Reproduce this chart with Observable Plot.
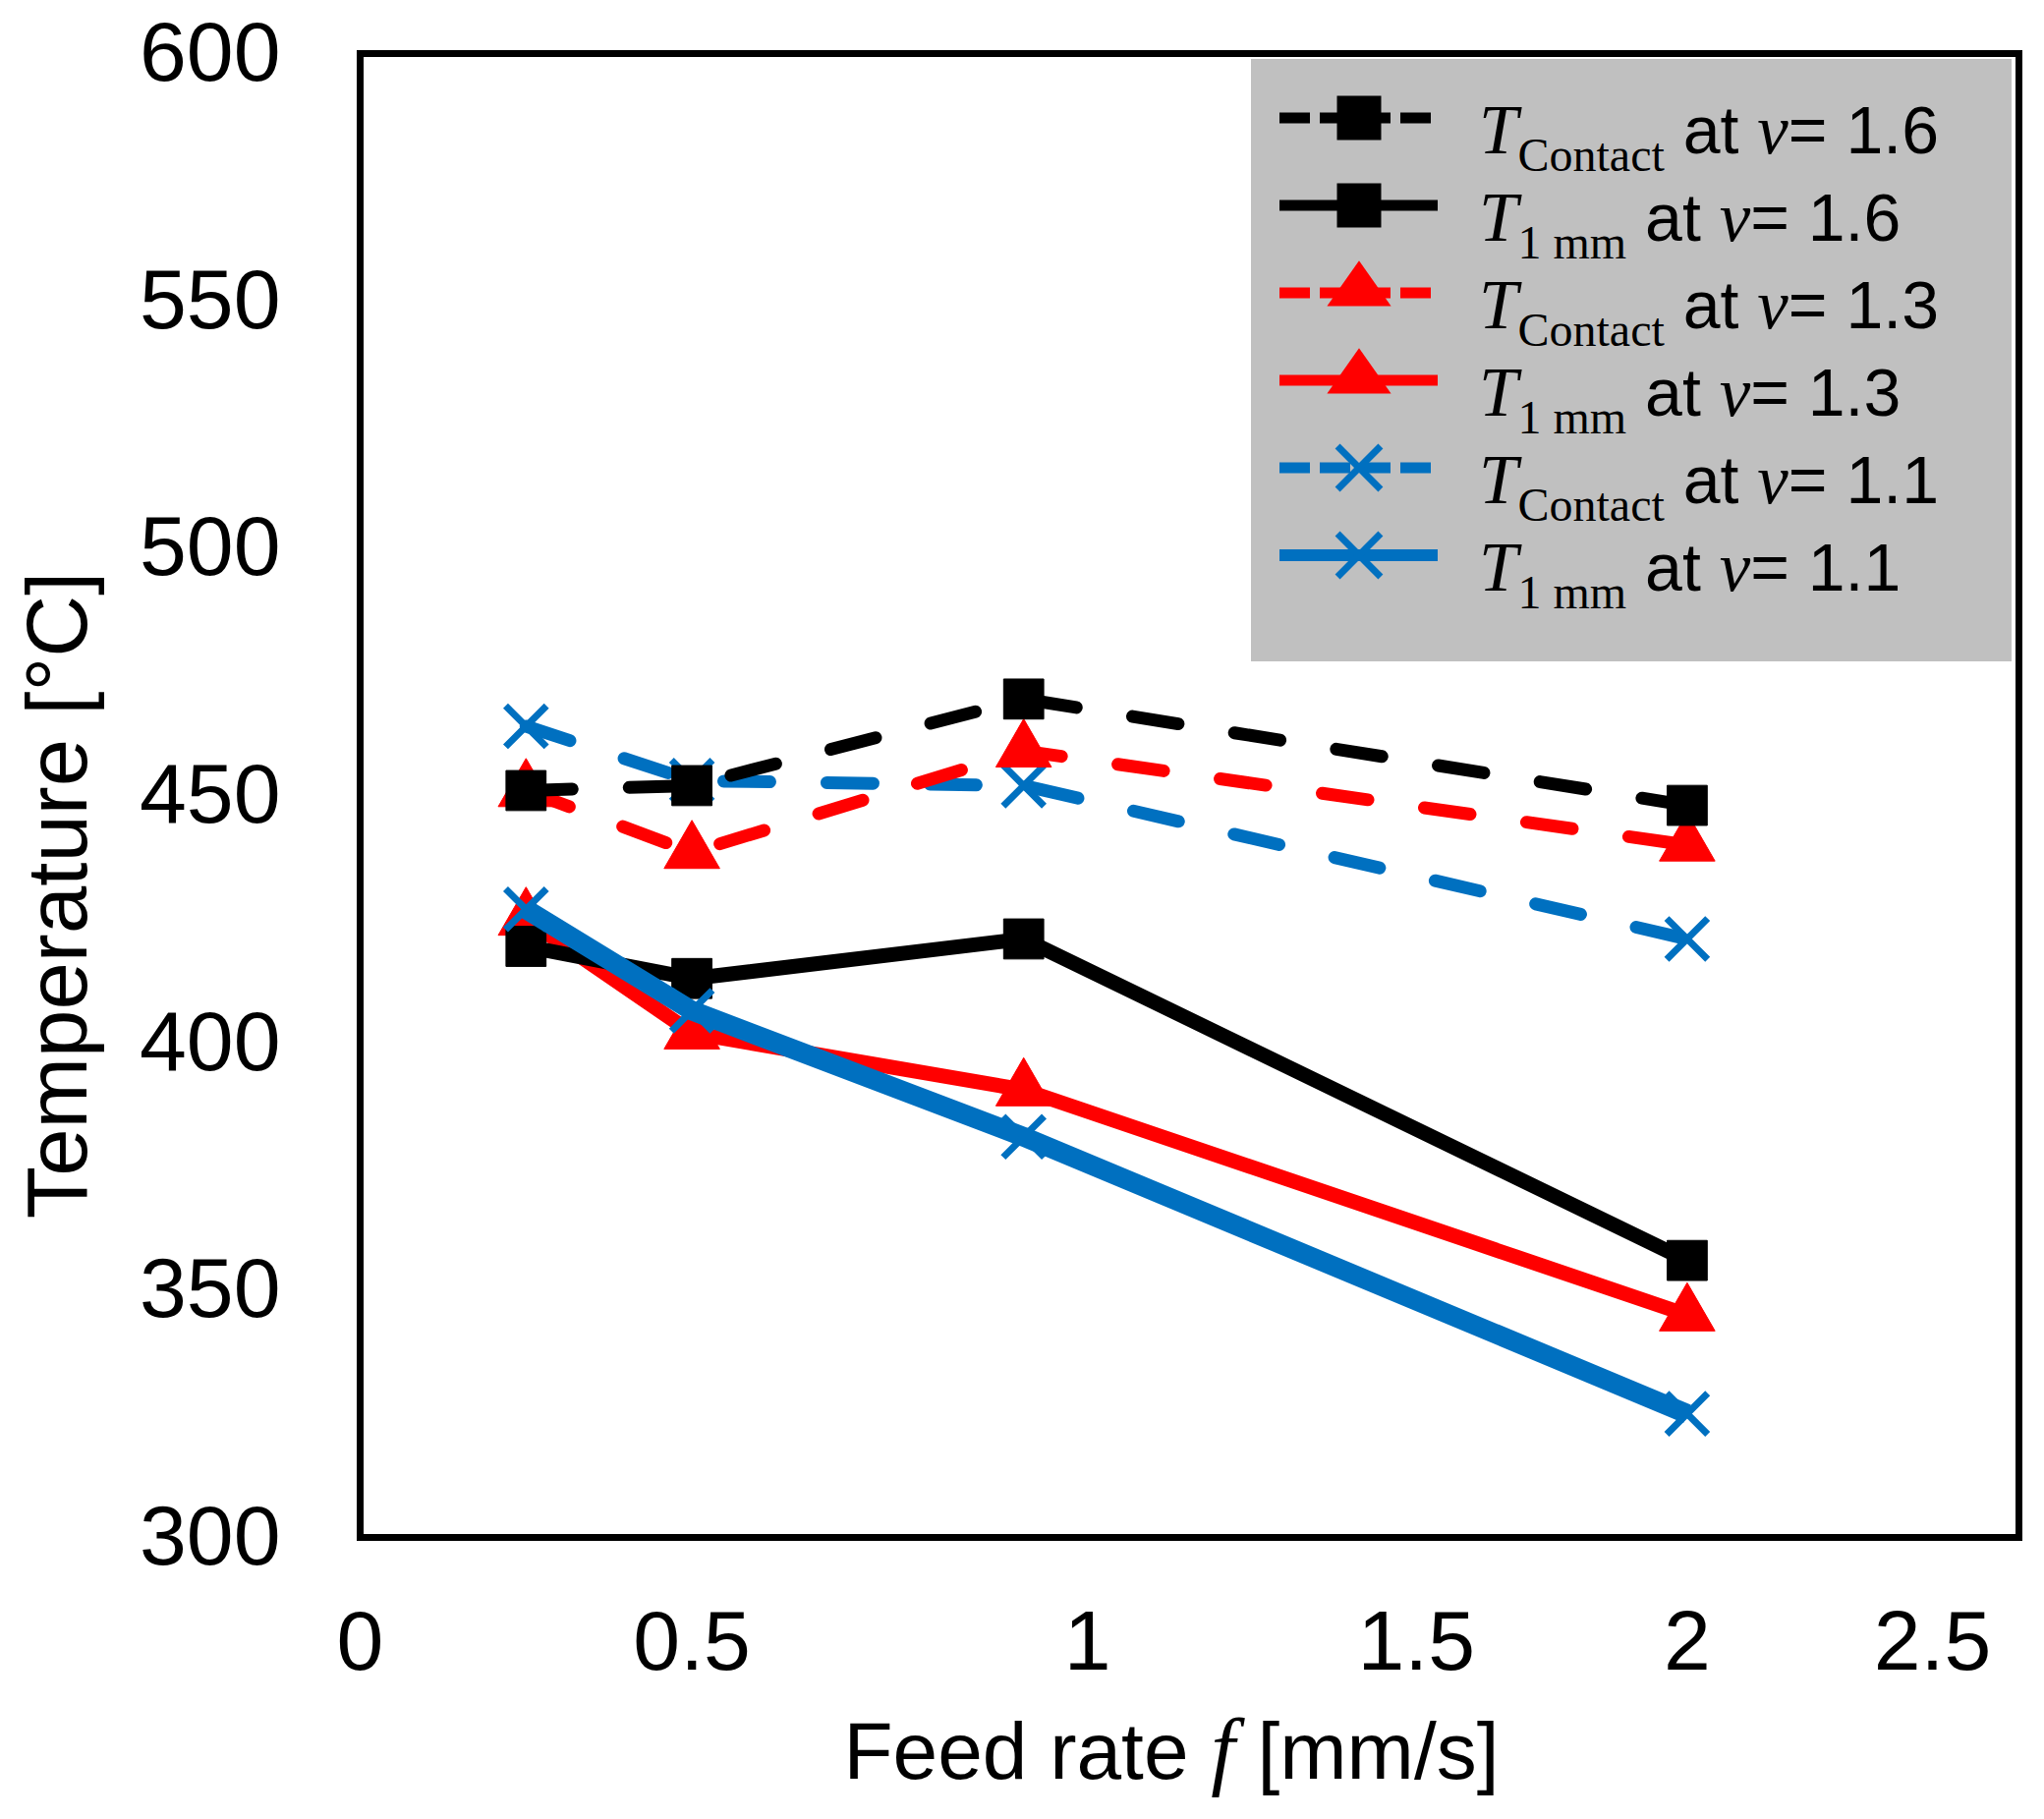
<!DOCTYPE html>
<html>
<head>
<meta charset="utf-8">
<script src="https://cdn.jsdelivr.net/npm/d3@7"></script>
<script src="https://cdn.jsdelivr.net/npm/@observablehq/plot@0.6"></script>
<style>
  body { margin: 0; background: #ffffff; }
  #wrap { position: relative; width: 2080px; height: 1851px; }
  #legend { position: absolute; left: 1273px; top: 60px; }
</style>
</head>
<body>
<div id="wrap"></div>
<script>
// ---------- data ----------
const feedRate = [0.25, 0.5, 1, 2];                 // f [mm/s]
const tContact16 = [451, 452, 469.5, 448];
const t1mm16     = [419.5, 413, 421, 356];
const tContact13 = [451, 438.5, 459, 440];
const t1mm13     = [425, 402, 390.5, 345];
const tContact11 = [464, 453, 452, 421];
const t1mm11     = [427, 406.5, 381, 325];

const xTicks = [0, 0.5, 1, 1.5, 2, 2.5];
const yTicks = [300, 350, 400, 450, 500, 550, 600];
const seriesSub   = ["Contact", "1 mm", "Contact", "1 mm", "Contact", "1 mm"];
const seriesSpeed = ["1.6", "1.6", "1.3", "1.3", "1.1", "1.1"];
const seriesValues = [tContact16, t1mm16, tContact13, t1mm13, tContact11, t1mm11];

// ---------- styles ----------
const BLACK = "#000000", RED = "#ff0000", BLUE = "#0070c0";
const styles = [
  {color: BLACK, dashed: true,  width: 13, symbol: "square"},
  {color: BLACK, dashed: false, width: 15, symbol: "square"},
  {color: RED,   dashed: true,  width: 13, symbol: "triangle"},
  {color: RED,   dashed: false, width: 15, symbol: "triangle"},
  {color: BLUE,  dashed: true,  width: 13, symbol: "times"},
  {color: BLUE,  dashed: false, width: 20, symbol: "times"}
];
const drawOrder = [4, 2, 0, 3, 1, 5];
const xLabelShift = [0, 0, 65, 62, 0, -88];

const rows = seriesValues.map((vals, s) => feedRate.map((f, i) => ({f, t: vals[i], s})));

function dotOpts(st) {
  if (st.symbol === "times") return {symbol: "times", r: 19, stroke: st.color, strokeWidth: 7, fill: "none"};
  if (st.symbol === "square") return {symbol: "square", r: 23, fill: st.color, stroke: st.color, strokeWidth: 1};
  return {symbol: "triangle", r: 21, fill: st.color, stroke: st.color, strokeWidth: 1};
}

const seriesMarks = drawOrder.flatMap(s => {
  const st = styles[s];
  return [
    Plot.line(rows[s], {
      x: "f", y: "t", stroke: st.color, strokeWidth: st.width,
      strokeDasharray: st.dashed ? "47,58" : null,
      strokeLinecap: st.dashed ? "round" : "butt",
      strokeLinejoin: "round"
    }),
    Plot.dot(rows[s], {x: "f", y: "t", ...dotOpts(st)})
  ];
});

const xAxisMarks = xTicks.map((t, i) => Plot.axisX([t], {
  tickSize: 0, tickPadding: 73, fontSize: 86, label: null, dx: xLabelShift[i], fill: "black",
  tickFormat: d => String(d)
}));

const chart = Plot.plot({
  width: 2080,
  height: 1851,
  marginLeft: 366,
  marginRight: 26,
  marginTop: 54,
  marginBottom: 287,
  x: {domain: [0, 2.5]},
  y: {domain: [300, 600]},
  style: {fontFamily: "Arial, 'Liberation Sans', sans-serif", background: "#ffffff", color: "black", overflow: "visible"},
  marks: [
    Plot.axisY(yTicks, {tickSize: 0, tickPadding: 81, fontSize: 86, label: null, fill: "black", tickFormat: d => String(d)}),
    ...xAxisMarks,
    ...seriesMarks,
    Plot.frame({stroke: "black", strokeWidth: 7})
  ]
});

document.getElementById("wrap").appendChild(chart);

// ---------- axis titles (rich text) ----------
const svg = d3.select(chart);
const xr = chart.scale("x").range, yr = chart.scale("y").range;
const xMid = (xr[0] + xr[1]) / 2;
const yMid = (yr[0] + yr[1]) / 2;
const SERIF = "'Liberation Serif', 'Times New Roman', serif";
const SANS = "Arial, 'Liberation Sans', sans-serif";

const xt = svg.append("text")
  .attr("x", xMid - 18).attr("y", yr[0] + 246)
  .attr("text-anchor", "middle").attr("font-size", 82)
  .attr("font-family", SANS).attr("fill", "black");
xt.append("tspan").text("Feed rate ");
xt.append("tspan").attr("font-family", SERIF).attr("font-style", "italic").attr("font-size", 88).text("f");
xt.append("tspan").text(" [mm/s]");

svg.append("text")
  .attr("transform", `translate(88,${yMid + 102}) rotate(-90)`)
  .attr("text-anchor", "middle").attr("font-size", 87)
  .attr("font-family", SANS).attr("fill", "black")
  .text("Temperature [°C]");

// ---------- legend (overlay) ----------
const LW = 774, LH = 613;
const leg = d3.select("#wrap").append("svg")
  .attr("id", "legend").attr("width", LW).attr("height", LH)
  .attr("viewBox", `0 0 ${LW} ${LH}`);
leg.append("rect").attr("width", LW).attr("height", LH).attr("fill", "#c0c0c0");

const legendRowY = seriesSub.map((_, i) => 60 + i * 89);
const symbolTypes = {square: d3.symbolSquare, triangle: d3.symbolTriangle, times: d3.symbolTimes};

seriesSub.forEach((sub, i) => {
  const st = styles[i];
  const y = legendRowY[i];
  leg.append("line")
    .attr("x1", 29).attr("x2", st.dashed ? 185 : 190).attr("y1", y).attr("y2", y)
    .attr("stroke", st.color).attr("stroke-width", st.color === BLUE && !st.dashed ? 12 : 11)
    .attr("stroke-dasharray", st.dashed ? "31,10" : null);
  const sym = d3.symbol().type(symbolTypes[st.symbol]);
  if (st.symbol === "times") {
    leg.append("path").attr("d", sym.size(Math.PI * 20 * 20)())
      .attr("transform", `translate(110,${y})`)
      .attr("fill", "none").attr("stroke", st.color).attr("stroke-width", 7);
  } else if (st.symbol === "square") {
    leg.append("path").attr("d", sym.size(45 * 45)())
      .attr("transform", `translate(110,${y})`).attr("fill", st.color);
  } else {
    leg.append("path").attr("d", sym.size(Math.PI * 22 * 22)())
      .attr("transform", `translate(110,${y - 2}) scale(1.1,0.9)`).attr("fill", st.color);
  }
  const tx = leg.append("text").attr("x", 232).attr("y", y + 36).attr("fill", "black");
  tx.append("tspan").attr("font-family", SERIF).attr("font-style", "italic").attr("font-size", 71).text("T");
  tx.append("tspan").attr("font-family", SERIF).attr("font-size", 48).attr("dy", 18).text(sub);
  tx.append("tspan").attr("font-family", SANS).attr("font-size", 68).attr("dy", -18).text(" at ");
  tx.append("tspan").attr("font-family", SERIF).attr("font-style", "italic").attr("font-size", 71).text("v");
  tx.append("tspan").attr("font-family", SANS).attr("font-size", 68).text("= " + seriesSpeed[i]);
});
</script>
</body>
</html>
